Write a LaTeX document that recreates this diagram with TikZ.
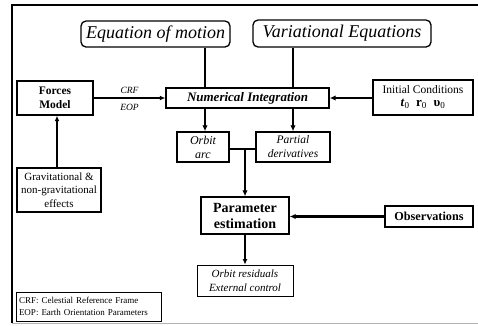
\documentclass[tikz,border=0pt]{standalone}
\usepackage{fontspec}
\setmainfont{Liberation Serif}
\usetikzlibrary{arrows.meta}
\begin{document}
\begin{tikzpicture}[x=1pt,y=-1pt,
  box/.style={draw,line width=1.4pt,inner sep=0pt,align=center},
  rbox/.style={draw,line width=1.3pt,inner sep=0pt,rounded corners=5pt,align=center},
  tbox/.style={draw,line width=0.9pt,inner sep=0pt,align=center},
  thk/.style={line width=2.4pt,-{Latex[length=6pt,width=5.5pt]}},
  thn/.style={line width=1.4pt},
  mid/.style={line width=1.5pt,-{Latex[length=5.5pt,width=5pt]}},
  lbl/.style={font=\fontsize{9.5}{11}\selectfont\itshape,inner sep=0pt}]
\useasboundingbox (0,0) rectangle (478,325);
% frame
\draw[line width=1.6pt] (478,5) -- (12,5) -- (12,323);
\draw[line width=1pt,gray!60] (12,323) -- (478,323);
% nodes
\node[rbox,minimum width=149pt,minimum height=26pt,font=\fontsize{18}{20}\selectfont\itshape] (eom) at (155.5,34) {Equation of motion};
\node[rbox,minimum width=178pt,minimum height=27pt,font=\fontsize{18}{20}\selectfont\itshape] (var) at (342,33.5) {Variational Equations};
\node[box,minimum width=76pt,minimum height=34pt,font=\fontsize{11.5}{14}\selectfont\bfseries] (fm) at (55,98) {Forces\\Model};
\node[box,minimum width=163pt,minimum height=20pt,font=\fontsize{13}{15}\selectfont\bfseries\itshape] (ni) at (247.5,98) {Numerical Integration};
\node[box,minimum width=100pt,minimum height=35pt,font=\fontsize{11.5}{14}\selectfont] (ic) at (423,97.5) {Initial Conditions\\[-1pt]{\fontsize{13}{14}\selectfont\textbf{\textit{t}}\textsubscript{0}\enspace\textbf{r}\textsubscript{0}\enspace\textbf{υ}\textsubscript{0}}};
\node[box,minimum width=52pt,minimum height=30pt,font=\fontsize{12}{14}\selectfont\itshape] (oa) at (203,147) {Orbit\\arc};
\node[box,minimum width=74pt,minimum height=30pt,font=\fontsize{11.5}{14}\selectfont\itshape] (pd) at (293,147) {Partial\\derivatives};
\node[box,minimum width=88pt,minimum height=37pt,font=\fontsize{14}{16}\selectfont\bfseries] (pe) at (245,215.5) {Parameter\\estimation};
\node[box,minimum width=88pt,minimum height=21pt,font=\fontsize{12.2}{14}\selectfont\bfseries] (obs) at (429,216.5) {Observations};
\node[tbox,minimum width=96pt,minimum height=31pt,font=\fontsize{11}{13.5}\selectfont\itshape] (res) at (245,280.5) {Orbit residuals\\External control};
\node[box,minimum width=84pt,minimum height=44pt,font=\fontsize{11}{13.5}\selectfont] (grav) at (59,190) {Gravitational \&\\non-gravitational\\effects};
\node[tbox,minimum width=145pt,minimum height=29pt,font=\fontsize{9}{12}\selectfont,align=left,text width=139pt] (leg) at (88.5,306.5) {CRF: Celestial Reference Frame\\EOP: Earth Orientation Parameters};
% connectors
\draw[thn] (eom.south -| 205,0) -- (ni.north -| 205,0);
\draw[thn] (var.south -| 293,0) -- (ni.north -| 293,0);
\draw[mid] (fm.east) -- (ni.west) node[lbl,pos=0.5,above=4pt] (crf) {CRF} node[lbl,pos=0.5,below=5pt] (eop) {EOP};
\draw[thk] (ic.west |- ni.east) -- (ni.east);
\draw[thk] (ni.south -| 205,0) -- (oa.north -| 205,0);
\draw[thk] (ni.south -| 293,0) -- (pd.north -| 293,0);
\coordinate (j) at (245,149);
\draw[line width=1.4pt] (oa.east |- j) -- (pd.west |- j);
\draw[thk] (j) -- (pe.north);
\draw[thk] (obs.west) -- (obs.west -| pe.east);
\draw[mid] (pe.south) -- (res.north);
\draw[mid] (grav.north -| 57,0) -- (fm.south -| 57,0);
\end{tikzpicture}
\end{document}
